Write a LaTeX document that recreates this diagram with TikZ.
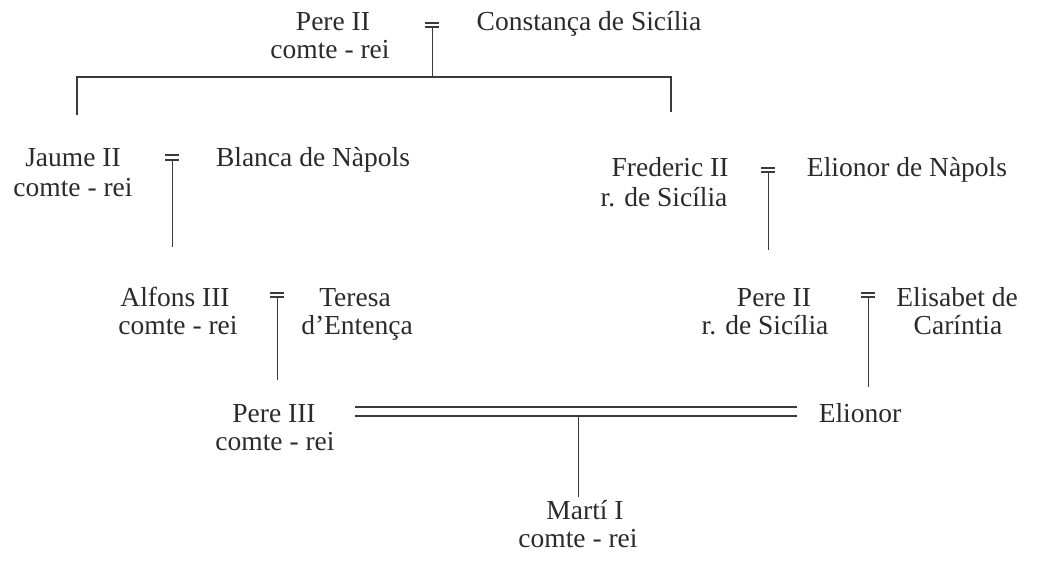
\documentclass[tikz,border=0pt]{standalone}
\usepackage{fontspec}
\setmainfont{Liberation Serif}
\definecolor{ink}{HTML}{2B2B2B}
\definecolor{rule}{HTML}{3A3A3A}
\begin{document}
\begin{tikzpicture}[x=1pt,y=-1pt,
  nm/.style={anchor=base,inner sep=0pt,text=ink,font=\fontsize{27.5}{29}\selectfont},
  vline/.style={draw=rule,line width=1pt},
  hline/.style={draw=rule,line width=1.4pt},
  bar/.style={draw=rule,line width=1.1pt}]
\useasboundingbox (0,0) rectangle (1039,580);
\fill[white] (0,0) rectangle (1039,580);

% people
\node[nm] (pere2a) at (333,31) {Pere II};
\node[nm] (pere2b) at (330,59) {comte - rei};
\node[nm] (constanca) at (589,31) {Constança de Sicília};

\node[nm] (jaumea) at (73,167) {Jaume II};
\node[nm] (jaumeb) at (73,197) {comte - rei};
\node[nm] (blanca) at (313,167) {Blanca de Nàpols};

\node[nm] (frederica) at (670,177) {Frederic II};
\node[nm] (fredericb) at (664,207) {r. de Sicília};
\node[nm] (elionorN) at (907,177) {Elionor de Nàpols};

\node[nm] (alfonsa) at (175,306) {Alfons III};
\node[nm] (alfonsb) at (178,334) {comte - rei};
\node[nm] (teresaa) at (355,306) {Teresa};
\node[nm] (teresab) at (357,334) {d’Entença};

\node[nm] (pere2sa) at (774,306) {Pere II};
\node[nm] (pere2sb) at (765,334) {r. de Sicília};
\node[nm] (elisabeta) at (957,306) {Elisabet de};
\node[nm] (elisabetb) at (958,334) {Caríntia};

\node[nm] (pere3a) at (274,422) {Pere III};
\node[nm] (pere3b) at (275,450) {comte - rei};
\node[nm] (elionor) at (860,422) {Elionor};

\node[nm] (martia) at (585,519) {Martí I};
\node[nm] (martib) at (578,547) {comte - rei};

% marriage symbols: two bars and a descending line
\foreach \n/\x/\ya/\yb/\ye in {m1/432/23/27/77, m2/172/155/160/247, m3/768/168/172/250, m4/277/293/297/380, m5/868/293/297/387}{
  \coordinate (\n t) at (\x-7,\ya);
  \coordinate (\n u) at (\x+7,\ya);
  \coordinate (\n l) at (\x-7,\yb);
  \coordinate (\n r) at (\x+7,\yb);
  \coordinate (\n s) at (\x,\yb);
  \coordinate (\n e) at (\x,\ye);
  \draw[bar] (\n t) -- (\n u);
  \draw[bar] (\n l) -- (\n r);
  \draw[vline] (\n s) -- (\n e);
}

% sibling line from Pere II = Constança
\coordinate (sibL) at (77,77);
\coordinate (sibR) at (671,77);
\coordinate (sibLd) at (77,115);
\coordinate (sibRd) at (671,112);
\draw[hline] (sibLd) -- (sibL) -- (sibR) -- (sibRd);

% double marriage line Pere III = Elionor
\coordinate (dA1) at (355,407);
\coordinate (dB1) at (797,407);
\coordinate (dA2) at (355,416);
\coordinate (dB2) at (797,416);
\draw[hline] (dA1) -- (dB1);
\draw[hline] (dA2) -- (dB2);
\coordinate (dm) at (578,416);
\coordinate (dme) at (578,497);
\draw[vline] (dm) -- (dme);
\end{tikzpicture}
\end{document}
